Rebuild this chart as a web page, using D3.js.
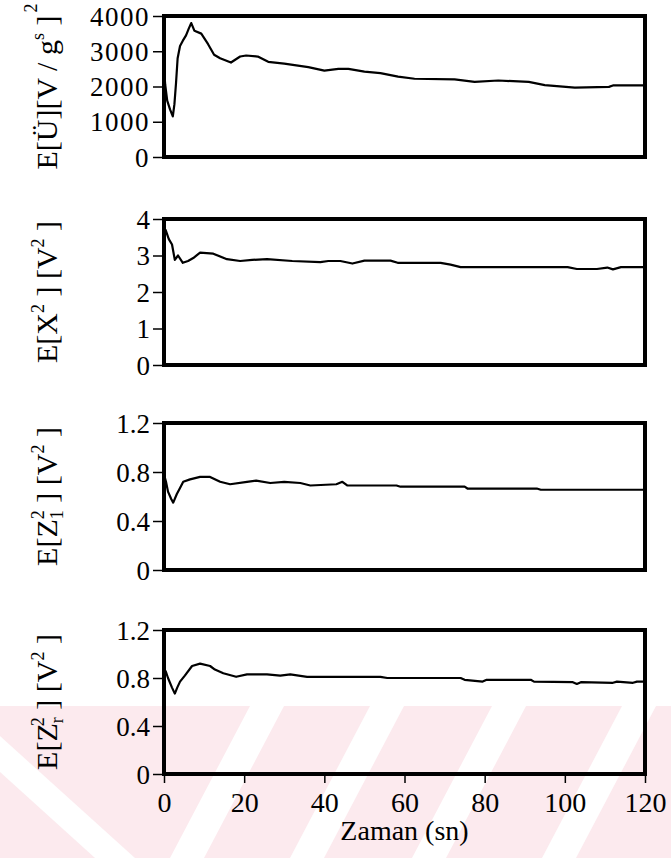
<!DOCTYPE html>
<html>
<head>
<meta charset="utf-8">
<title>Zaman - E[.] grafikleri</title>
<script src="https://cdn.jsdelivr.net/npm/d3@7"></script>
<style>
  body { margin: 0; background: #fff; }
</style>
</head>
<body>
<div id="chart"></div>
<script>
var serif = "'Liberation Serif', 'DejaVu Serif', 'Times New Roman', serif";

// x axis ticks (s)
var timeTicks = [0, 20, 40, 60, 80, 100, 120];

// panel 1: E[U] [V/g]^2
var uTime = [0, 0.3, 0.8, 1.5, 2.2, 2.6, 3.0, 3.4, 4.0, 4.7, 5.5, 6.2, 6.8, 7.6, 9.3, 11, 12.5, 14, 16.7, 19, 20.5, 23.4, 26, 30, 36, 40, 43.5, 46, 50, 54, 58.4, 62.5, 72.5, 77.5, 83.4, 91, 95, 102.5, 111, 112, 120];
var uVals = [2500, 2050, 1600, 1350, 1150, 1500, 2100, 2800, 3150, 3300, 3450, 3650, 3800, 3580, 3500, 3200, 2900, 2800, 2680, 2850, 2880, 2850, 2700, 2650, 2550, 2450, 2500, 2500, 2420, 2380, 2280, 2220, 2200, 2130, 2170, 2130, 2040, 1970, 1990, 2030, 2030];
var uTicks = [0, 1000, 2000, 3000, 4000];

// panel 2: E[X^2] [V^2]
var xTime = [0, 0.4, 1.2, 2, 2.7, 3.5, 4.7, 6, 7.3, 9, 12.3, 15.7, 19, 22, 25.7, 32, 39, 41, 44, 47, 50, 56.5, 58.3, 69, 71.5, 74, 100.7, 103, 108, 110.6, 112, 114, 120];
var xVals = [3.6, 3.7, 3.45, 3.3, 2.88, 3.0, 2.8, 2.85, 2.93, 3.08, 3.05, 2.9, 2.85, 2.88, 2.9, 2.85, 2.82, 2.85, 2.85, 2.78, 2.86, 2.86, 2.8, 2.8, 2.75, 2.68, 2.68, 2.63, 2.63, 2.67, 2.62, 2.68, 2.68];
var xTicks = [0, 1, 2, 3, 4];

// panel 3: E[Z1^2] [V^2]
var z1Time = [0, 0.5, 1, 1.8, 2.3, 3.2, 4, 4.8, 6.5, 9, 11.5, 14, 16.5, 20.7, 23, 26.5, 30, 34, 36.5, 43, 44.5, 45.7, 58, 59, 75, 75.7, 93, 94, 120];
var z1Vals = [0.78, 0.72, 0.64, 0.58, 0.55, 0.62, 0.67, 0.72, 0.74, 0.76, 0.76, 0.72, 0.70, 0.72, 0.73, 0.71, 0.72, 0.71, 0.69, 0.70, 0.72, 0.69, 0.69, 0.68, 0.68, 0.665, 0.665, 0.655, 0.655];
var zTicks = [0, 0.4, 0.8, 1.2];

// panel 4: E[Zr^2] [V^2]
var zrTime = [0, 0.5, 1, 2, 2.7, 3.3, 4, 5.2, 7, 9, 11.5, 12.7, 14.8, 18, 20.7, 25.7, 29, 31.5, 35.7, 54, 55.7, 74, 75, 79.5, 80.5, 91.5, 92.3, 102, 103, 104, 112, 113, 117, 118, 120];
var zrVals = [0.88, 0.85, 0.8, 0.72, 0.67, 0.72, 0.77, 0.82, 0.9, 0.92, 0.9, 0.87, 0.84, 0.81, 0.83, 0.83, 0.82, 0.83, 0.81, 0.81, 0.80, 0.80, 0.785, 0.77, 0.785, 0.785, 0.77, 0.765, 0.75, 0.765, 0.76, 0.77, 0.76, 0.77, 0.77];

var svg = d3.select("#chart").append("svg")
  .attr("width", 671)
  .attr("height", 858);

// pink watermark behind the lower part
var wm = svg.append("g");
wm.append("rect").attr("x", 0).attr("y", 706).attr("width", 671).attr("height", 152).attr("fill", "#fceaee");
// "/" white bands (top-left x at y=706), shifted left by 80 at the bottom
[250, 370, 492, 622].forEach(function(a) {
  wm.append("polygon")
    .attr("points", [[a, 706], [a + 34, 706], [a - 46, 858], [a - 80, 858]].join(" "))
    .attr("fill", "#fff");
});
// "\" band on the left
wm.append("polygon")
  .attr("points", [[0, 736], [0, 772], [95, 858], [135, 858]].join(" "))
  .attr("fill", "#fff");

var x = d3.scaleLinear().domain([0, 120]).range([164, 645]);

var panels = [
  { t: uTime, v: uVals, ticks: uTicks, max: 4000, top: 16, bottom: 157, fmt: d3.format("d"), spacing: 1.5,
    label: [["E[Ü][V / g"], ["s", "sup"], [" ]"], ["2", "sup2"]] },
  { t: xTime, v: xVals, ticks: xTicks, max: 4, top: 219, bottom: 365, fmt: d3.format("d"), spacing: 0,
    label: [["E[X"], ["2", "sup"], [" ] [V"], ["2", "sup"], [" ]"]] },
  { t: z1Time, v: z1Vals, ticks: zTicks, max: 1.2, top: 423, bottom: 570, fmt: function(d) { return d === 0 ? "0" : d3.format(".1f")(d); }, spacing: 0,
    label: [["E[Z"], ["1", "sub"], ["2", "subsup"], [" ] [V"], ["2", "sup"], [" ]"]] },
  { t: zrTime, v: zrVals, ticks: zTicks, max: 1.2, top: 630, bottom: 774, fmt: function(d) { return d === 0 ? "0" : d3.format(".1f")(d); }, spacing: 0,
    label: [["E[Z"], ["r", "sub"], ["2", "subsup"], [" ] [V"], ["2", "sup"], [" ]"]] }
];

panels.forEach(function(p, i) {
  var y = d3.scaleLinear().domain([0, p.max]).range([p.bottom, p.top]);
  var g = svg.append("g");

  // y axis
  var ay = g.append("g")
    .attr("transform", "translate(" + x(0) + ",0)")
    .call(d3.axisLeft(y).tickValues(p.ticks).tickSize(11).tickPadding(3).tickFormat(p.fmt));
  ay.attr("font-family", null).attr("font-size", null);
  ay.select(".domain").remove();
  ay.selectAll("line").attr("stroke", "#000").attr("stroke-width", 1.5);
  ay.selectAll("text")
    .style("font-family", serif)
    .style("font-size", "27px")
    .style("letter-spacing", p.spacing + "px")
    .attr("dy", "0.34em");

  // data line
  g.append("path")
    .datum(d3.zip(p.t, p.v))
    .attr("d", d3.line().x(function(d) { return x(d[0]); }).y(function(d) { return y(d[1]); }))
    .attr("fill", "none")
    .attr("stroke", "#000")
    .attr("stroke-width", 2.2)
    .attr("stroke-linejoin", "round");

  // frame
  g.append("rect")
    .attr("x", x(0)).attr("y", p.top)
    .attr("width", x(120) - x(0)).attr("height", p.bottom - p.top)
    .attr("fill", "none").attr("stroke", "#000").attr("stroke-width", 4);

  // rotated y label
  var cy = (p.top + p.bottom) / 2;
  var txt = g.append("text")
    .attr("transform", "translate(57," + cy + ") rotate(-90)")
    .attr("text-anchor", "middle")
    .style("font-family", serif)
    .style("font-size", "30px");
  var shift = 0;
  p.label.forEach(function(s) {
    var ts = txt.append("tspan").text(s[0]);
    var want = 0, dx = 0;
    if (s[1] === "sup") { ts.style("font-size", "18px"); want = -13; }
    if (s[1] === "sup2") { ts.style("font-size", "18px"); want = -20; dx = 3; }
    if (s[1] === "sub") { ts.style("font-size", "18px"); want = 6; }
    if (s[1] === "subsup") { ts.style("font-size", "18px"); want = -13; dx = -9; }
    ts.attr("dy", want - shift);
    if (dx) ts.attr("dx", dx);
    shift = want;
  });

  // bottom time axis on the last panel
  if (i === panels.length - 1) {
    var ax = g.append("g")
      .attr("transform", "translate(0," + p.bottom + ")")
      .call(d3.axisBottom(x).tickValues(timeTicks).tickSize(9).tickPadding(9).tickFormat(d3.format("d")));
    ax.attr("font-family", null).attr("font-size", null);
    ax.select(".domain").remove();
    ax.selectAll("line").attr("stroke", "#000").attr("stroke-width", 1.5);
    ax.selectAll("text").style("font-family", serif).style("font-size", "28px");

    svg.append("text")
      .attr("x", (x(0) + x(120)) / 2)
      .attr("y", 840)
      .attr("text-anchor", "middle")
      .style("font-family", serif)
      .style("font-size", "28px")
      .text("Zaman (sn)");
  }
});
</script>
</body>
</html>
